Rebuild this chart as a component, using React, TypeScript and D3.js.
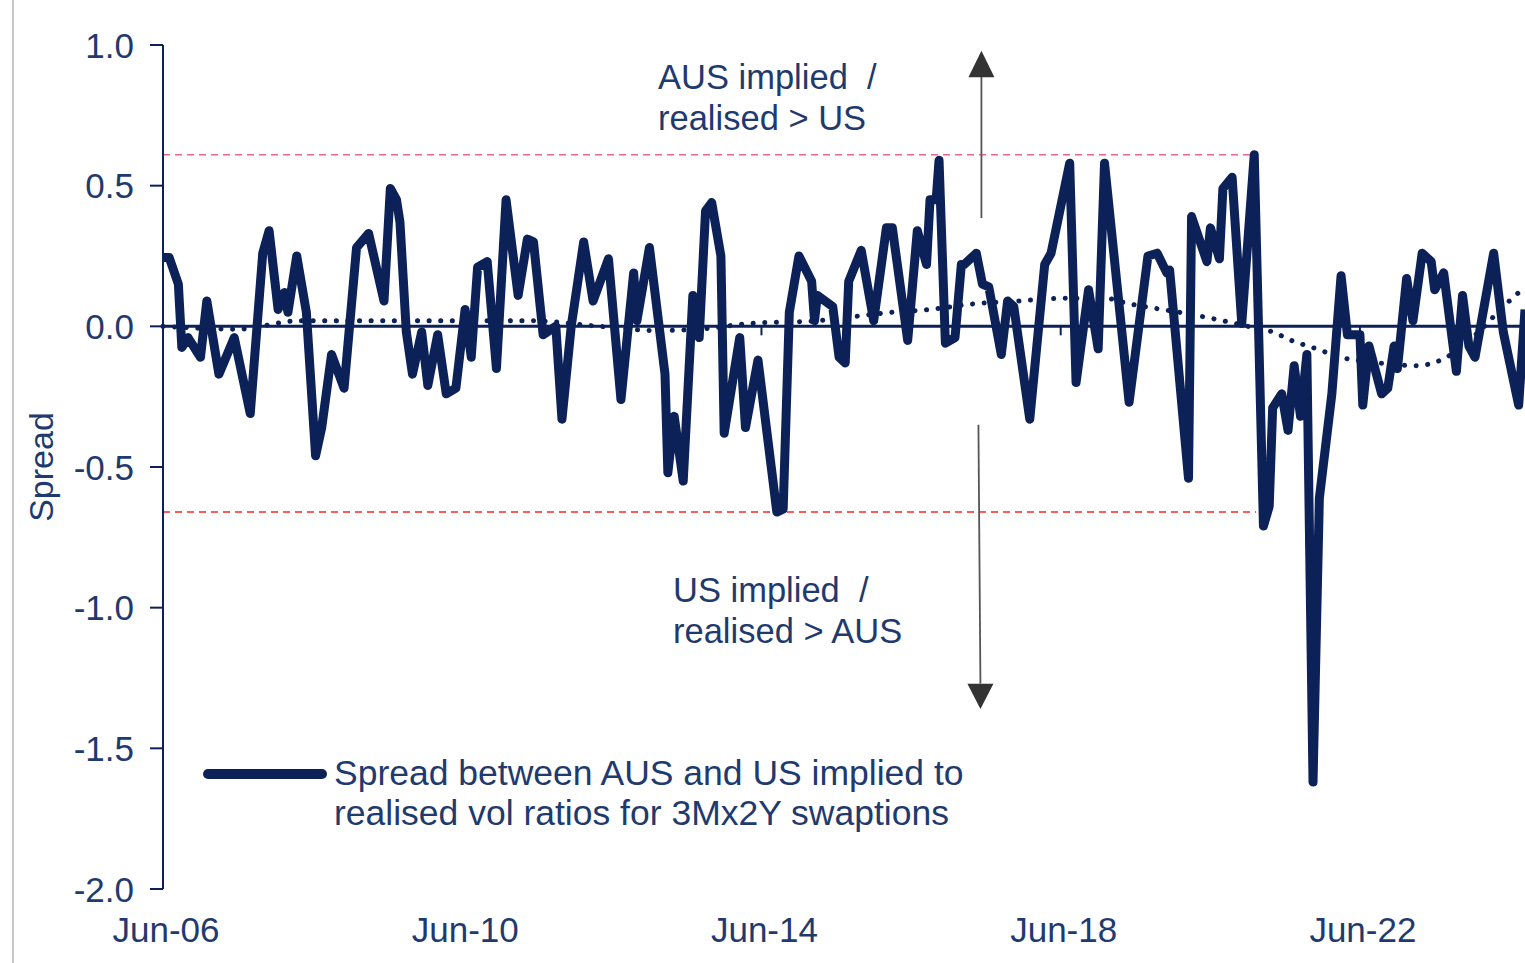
import React from 'react';
import * as d3 from 'd3';

// spread series (traced vertices)
const spreadDates = [
  '2006-06-01', '2006-07-01', '2006-08-15', '2006-09-01', '2006-10-01', '2006-12-01', '2007-01-01', '2007-03-01',
  '2007-05-15', '2007-08-01', '2007-10-01', '2007-11-01', '2007-12-15', '2008-01-15', '2008-02-01', '2008-03-15',
  '2008-05-01', '2008-06-15', '2008-07-15', '2008-09-01', '2008-11-01', '2009-01-01', '2009-03-01', '2009-05-15',
  '2009-06-15', '2009-07-15', '2009-08-01', '2009-09-01', '2009-10-01', '2009-11-15', '2009-12-15', '2010-02-01',
  '2010-03-15', '2010-05-01', '2010-06-15', '2010-07-15', '2010-08-15', '2010-10-01', '2010-11-15', '2011-01-01',
  '2011-03-01', '2011-04-15', '2011-05-15', '2011-07-01', '2011-09-01', '2011-10-01', '2011-11-15', '2012-01-15',
  '2012-03-01', '2012-05-15', '2012-07-15', '2012-09-15', '2012-10-01', '2012-12-01', '2013-02-15', '2013-03-01',
  '2013-04-01', '2013-05-15', '2013-07-01', '2013-08-01', '2013-09-01', '2013-10-01', '2013-11-15', '2013-12-01',
  '2014-02-15', '2014-03-15', '2014-05-15', '2014-08-15', '2014-09-15', '2014-10-15', '2014-12-01', '2015-02-01',
  '2015-02-15', '2015-03-01', '2015-05-15', '2015-06-15', '2015-07-15', '2015-08-01', '2015-10-01', '2015-12-01',
  '2016-02-01', '2016-03-01', '2016-05-15', '2016-07-01', '2016-08-15', '2016-09-01', '2016-10-01', '2016-10-15',
  '2016-11-15', '2017-01-01', '2017-02-01', '2017-02-15', '2017-04-15', '2017-05-15', '2017-06-15', '2017-08-15',
  '2017-09-15', '2017-10-15', '2018-01-01', '2018-03-15', '2018-04-15', '2018-07-15', '2018-08-15', '2018-10-15',
  '2018-12-01', '2019-01-01', '2019-05-01', '2019-08-01', '2019-09-15', '2019-11-01', '2019-11-15', '2020-02-15',
  '2020-03-01', '2020-05-15', '2020-06-01', '2020-07-15', '2020-08-01', '2020-09-15', '2020-11-01', '2021-01-01',
  '2021-02-15', '2021-03-15', '2021-04-01', '2021-05-15', '2021-06-15', '2021-07-15', '2021-08-15', '2021-09-15',
  '2021-10-15', '2021-11-15', '2022-01-15', '2022-03-01', '2022-04-01', '2022-06-01', '2022-06-15', '2022-07-15',
  '2022-09-15', '2022-10-15', '2022-11-15', '2022-12-01', '2023-01-15', '2023-02-15', '2023-04-01', '2023-05-15',
  '2023-06-01', '2023-07-15', '2023-09-15', '2023-10-15', '2023-11-15', '2023-12-15', '2024-03-15', '2024-05-01',
  '2024-07-15', '2024-08-15',
];
const spreadValues = [
  0.245, 0.245, 0.15, -0.075, -0.04, -0.11, 0.09, -0.17,
  -0.04, -0.31, 0.26, 0.34, 0.06, 0.12, 0.05, 0.25,
  0.05, -0.46, -0.36, -0.1, -0.22, 0.28, 0.33, 0.09,
  0.49, 0.45, 0.37, -0.02, -0.17, -0.02, -0.21, -0.03,
  -0.24, -0.22, 0.06, -0.11, 0.21, 0.23, -0.15, 0.45,
  0.11, 0.31, 0.3, -0.03, 0.0, -0.33, 0.0, 0.3,
  0.09, 0.24, -0.26, 0.19, 0.02, 0.28, -0.17, -0.52,
  -0.32, -0.55, 0.11, -0.04, 0.41, 0.44, 0.25, -0.38,
  -0.04, -0.36, -0.12, -0.66, -0.65, 0.05, 0.25, 0.16,
  0.02, 0.11, 0.07, -0.11, -0.13, 0.16, 0.27, 0.02,
  0.35, 0.35, -0.05, 0.34, 0.22, 0.45, 0.45, 0.59,
  -0.06, -0.04, 0.22, 0.22, 0.26, 0.15, 0.14, -0.1,
  0.09, 0.07, -0.33, 0.22, 0.26, 0.58, -0.2, 0.13,
  -0.08, 0.58, -0.27, 0.25, 0.26, 0.19, 0.2, -0.54,
  0.39, 0.23, 0.35, 0.24, 0.49, 0.53, 0.01, 0.61,
  -0.71, -0.64, -0.29, -0.24, -0.37, -0.14, -0.32, -0.1,
  -1.62, -0.61, -0.24, 0.18, -0.03, -0.03, -0.28, -0.07,
  -0.24, -0.22, -0.07, -0.15, 0.17, 0.02, 0.26, 0.23,
  0.13, 0.19, -0.16, 0.11, -0.07, -0.11, 0.26, -0.02,
  -0.28, 0.06,
];

// dotted trend
const trendDates = [
  '2006-06-01', '2007-06-01', '2008-04-01', '2010-05-01', '2011-05-01', '2012-04-01', '2013-01-01', '2013-08-01',
  '2014-04-01', '2015-03-01', '2015-07-01', '2016-03-01', '2016-09-01', '2017-04-01', '2017-11-01', '2018-07-01',
  '2019-01-01', '2019-05-01', '2020-01-01', '2020-08-01', '2020-12-01', '2021-04-01', '2021-07-01', '2021-11-01',
  '2022-03-01', '2022-09-01', '2023-03-01', '2023-07-01', '2024-01-01', '2024-05-01', '2024-08-15',
];
const trendValues = [
  0.0, -0.01, 0.02, 0.02, 0.02, 0.0, -0.015, -0.01,
  0.01, 0.02, 0.03, 0.05, 0.06, 0.08, 0.09, 0.1,
  0.1, 0.08, 0.05, 0.02, 0.0, -0.02, -0.05, -0.08,
  -0.11, -0.13, -0.14, -0.12, -0.02, 0.07, 0.14,
];

const yTicks = [1.0, 0.5, 0.0, -0.5, -1.0, -1.5, -2.0];
const xTickDates = ['2006-06-01', '2010-06-01', '2014-06-01', '2018-06-01', '2022-06-01'];
const xTickLabels = ['Jun-06', 'Jun-10', 'Jun-14', 'Jun-18', 'Jun-22'];

const upperBand = 0.61;
const lowerBand = -0.66;
const bandEnd = ['2021-01-20', '2021-01-10'];
const arrowDate = '2017-05-10';

const navy = '#0b2157';
const textCol = '#1f3a6e';
const font = "'Liberation Sans', Arial, sans-serif";

const parse = d3.timeParse('%Y-%m-%d');

export default function App() {
  const width = 1525;
  const height = 963;

  const x = d3.scaleTime()
    .domain([parse('2006-06-01')!, parse('2024-08-15')!])
    .range([163, 1525]);
  const y = d3.scaleLinear().domain([-2, 1]).range([889, 45]);

  const spread = spreadDates.map((d, i) => ({ date: parse(d)!, value: spreadValues[i] }));
  const trend = trendDates.map((d, i) => ({ date: parse(d)!, value: trendValues[i] }));

  const line = d3.line<{ date: Date; value: number }>()
    .x(d => x(d.date))
    .y(d => y(d.value));
  const trendLine = d3.line<{ date: Date; value: number }>()
    .x(d => x(d.date))
    .y(d => y(d.value))
    .curve(d3.curveMonotoneX);

  const ax = x(parse(arrowDate)!);

  return (
    <svg width={width} height={height} style={{ position: 'absolute', left: 0, top: 0, background: '#fff' }}
      fontFamily={font}>
      <line x1={13} x2={13} y1={0} y2={height} stroke="#c8c8c8" strokeWidth={2} />

      {/* band lines */}
      <line x1={x.range()[0]} x2={x(parse(bandEnd[0])!)} y1={y(upperBand)} y2={y(upperBand)}
        stroke="#f2628f" strokeWidth={1.5} strokeDasharray="7 5" />
      <line x1={x.range()[0]} x2={x(parse(bandEnd[1])!)} y1={y(lowerBand)} y2={y(lowerBand)}
        stroke="#ff2424" strokeWidth={1.5} strokeDasharray="7 5" />

      {/* y axis */}
      <line x1={163} x2={163} y1={y(1)} y2={y(-2)} stroke={navy} strokeWidth={2} />
      {yTicks.map(t => (
        <g key={t}>
          <line x1={150} x2={163} y1={y(t)} y2={y(t)} stroke={navy} strokeWidth={2} />
          <text x={134} y={y(t)} dy="0.36em" textAnchor="end" fontSize={35} fill={textCol}>
            {t.toFixed(1)}
          </text>
        </g>
      ))}
      <text transform={`translate(53,${y(-0.5)}) rotate(-90)`} textAnchor="middle" fontSize={34} fill={textCol}>
        Spread
      </text>

      {/* x axis at zero */}
      <line x1={163} x2={1525} y1={y(0)} y2={y(0)} stroke={navy} strokeWidth={3} />
      {xTickDates.map((d, i) => (
        <g key={d}>
          <line x1={x(parse(d)!)} x2={x(parse(d)!)} y1={y(0)} y2={y(0) + 9} stroke={navy} strokeWidth={2} />
          <text x={x(parse(d)!) + 3} y={942} textAnchor="middle" fontSize={35} fill={textCol}>{xTickLabels[i]}</text>
        </g>
      ))}

      <path d={trendLine(trend) ?? ''} fill="none" stroke={navy} strokeWidth={5}
        strokeDasharray="0.1 11.5" strokeLinecap="round" />
      <path d={line(spread) ?? ''} fill="none" stroke={navy} strokeWidth={9} strokeLinejoin="round" />

      {/* arrows */}
      <line x1={ax} x2={ax} y1={y(0.385)} y2={y(0.89)} stroke="#555" strokeWidth={1.8} />
      <path d={`M${ax},${y(0.98)} L${ax - 13},${y(0.885)} L${ax + 13},${y(0.885)} Z`} fill="#333" />
      <line x1={ax - 3} x2={ax - 1} y1={y(-0.35)} y2={y(-1.27)} stroke="#555" strokeWidth={1.8} />
      <path d={`M${ax - 1},${y(-1.36)} L${ax - 14},${y(-1.27)} L${ax + 12},${y(-1.27)} Z`} fill="#333" />

      {/* annotations */}
      <text x={658} y={89} fontSize={34.5} fill={textCol} xmlSpace="preserve">AUS implied  /</text>
      <text x={658} y={130} fontSize={34.5} fill={textCol}>realised &gt; US</text>
      <text x={673} y={602} fontSize={34.5} fill={textCol} xmlSpace="preserve">US implied  /</text>
      <text x={673} y={643} fontSize={34.5} fill={textCol}>realised &gt; AUS</text>

      {/* legend */}
      <line x1={208} x2={322} y1={774} y2={774} stroke={navy} strokeWidth={10} strokeLinecap="round" />
      <text x={334} y={785} fontSize={35.5} fill={textCol}>Spread between AUS and US implied to</text>
      <text x={334} y={825} fontSize={35.5} fill={textCol}>realised vol ratios for 3Mx2Y swaptions</text>
    </svg>
  );
}
